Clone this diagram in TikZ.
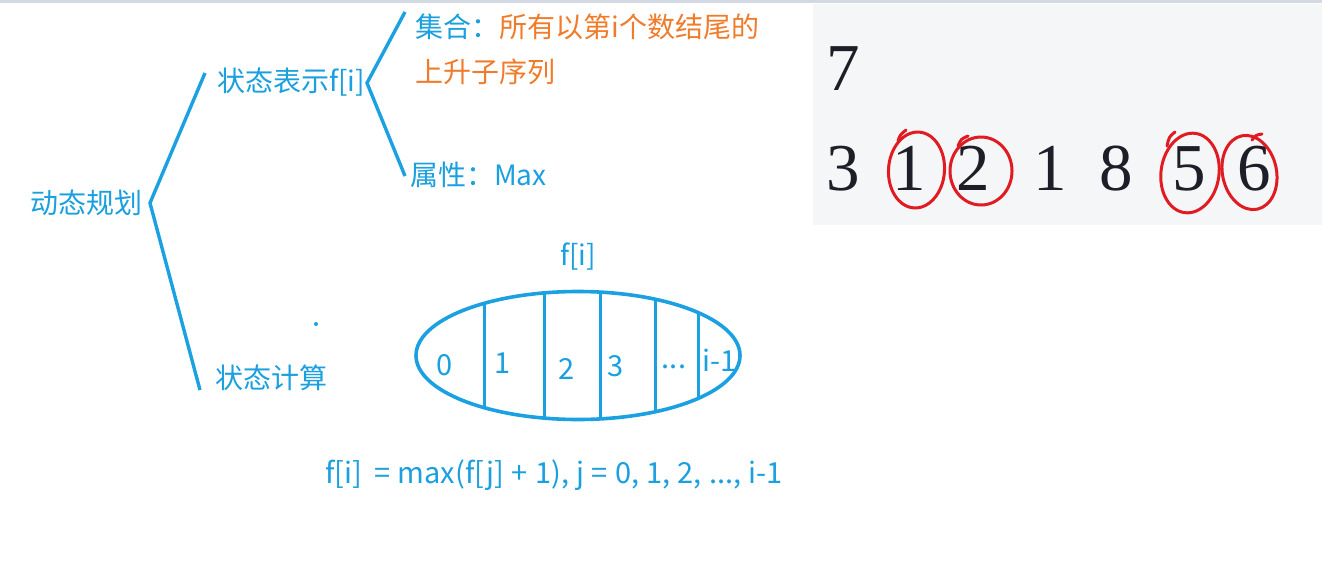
\documentclass[tikz,border=0pt]{standalone}
\usepackage{fontspec}
\setmainfont{Noto Sans CJK SC}
\newfontfamily\digitfont{Liberation Serif}
\definecolor{tblue}{HTML}{1A9FDF}
\definecolor{lblue}{HTML}{1BA1E2}
\definecolor{torange}{HTML}{F07C2B}
\definecolor{panelbg}{HTML}{F5F6F8}
\definecolor{stripc}{HTML}{D3D9E2}
\definecolor{penred}{HTML}{E01B22}
\definecolor{digitc}{HTML}{1E1E28}
\begin{document}
\begin{tikzpicture}[x=1pt,y=-1pt,
  lbl/.style={inner sep=0pt,anchor=west,text=tblue,font=\fontsize{28}{34}\selectfont},
  olbl/.style={lbl,text=torange},
  num/.style={inner sep=0pt,anchor=center,text=tblue,font=\fontsize{29}{34}\selectfont},
  brace/.style={draw=lblue,line width=3.4pt,line join=miter},
  dig/.style={inner sep=0pt,anchor=base,text=digitc,font=\digitfont\fontsize{67}{72}\selectfont},
  pen/.style={draw=penred,line width=3pt,line cap=round}]
\useasboundingbox (0,0) rectangle (1322,563);
\fill[white] (0,0) rectangle (1322,563);
\fill[stripc] (0,0) rectangle (1322,3);
\fill[panelbg] (813,4) rectangle (1322,225);

% tree
\node[lbl] (dp) at (30,203) {动态规划};
\node[lbl] (rep) at (217,82) {状态表示f[i]};
\node[lbl] (calc) at (215,378) {状态计算};
\node[lbl] (set) at (415,27) {集合：};
\node[olbl] (setd) at (set.east) {所有以第i个数结尾的};
\node[olbl] (set2) at (415,72) {上升子序列};
\node[lbl] (attr) at (410,175) {属性：Max};

\coordinate (b1) at (150,203);
\coordinate (b1t) at (205,73);
\coordinate (b1b) at (200,390);
\draw[brace] (b1t) -- (b1) -- (b1b);
\coordinate (b2) at (367,83);
\coordinate (b2t) at (405,12);
\coordinate (b2b) at (405,176);
\draw[brace] (b2t) -- (b2) -- (b2b);

\fill[lblue] (316,324) circle (2pt);

% ellipse
\node[lbl,anchor=center] (fi) at (578,257) {f[i]};
\coordinate (ec) at (578,355.5);
\begin{scope}
\clip (ec) ellipse [x radius=162, y radius=64];
\foreach \xx in {484,544,600,655,698}
  \draw[draw=lblue,line width=3pt] (\xx,280) -- (\xx,430);
\end{scope}
\draw[draw=lblue,line width=3.6pt] (ec) ellipse [x radius=162, y radius=64];
\node[num] (n0) at (445,365) {0};
\node[num] (n1) at (503,363) {1};
\node[num] (n2) at (567,369) {2};
\node[num] (n3) at (616,366) {3};
\node[num] (n4) at (674,367) {...};
\node[num] (n5) at (720,360) {i-1};

\node[lbl,font=\fontsize{29}{34}\selectfont] (formula) at (325,475) {\spaceskip=0.25em\relax f[i] \,= max(f[j] + 1), j = 0, 1, 2, ..., i-1};

% panel digits
\node[dig] (d7) at (843,90) {7};
\node[dig] (a1) at (843,190) {3};
\node[dig] (a2) at (909,190) {1};
\node[dig] (a3) at (973,190) {2};
\node[dig] (a4) at (1050,190) {1};
\node[dig] (a5) at (1116,190) {8};
\node[dig] (a6) at (1189,190) {5};
\node[dig] (a7) at (1254,190) {6};

% red pen circles
\draw[pen] (916.5,170) ellipse [x radius=28, y radius=38, rotate=-4];
\draw[pen] (898,141) .. controls (900,135) .. (906,130);
\draw[pen] (981,171) ellipse [x radius=31, y radius=34];
\draw[pen] (958,146) .. controls (961,139) .. (968,136);
\draw[pen] (1190,173) ellipse [x radius=29, y radius=40, rotate=-8];
\draw[pen] (1167,146) .. controls (1169,137) .. (1175,132);
\draw[pen] (1249.5,172.5) ellipse [x radius=27, y radius=37.5, rotate=12];
\draw[pen] (1252,140) .. controls (1256,135) .. (1262,134);
\end{tikzpicture}
\end{document}
